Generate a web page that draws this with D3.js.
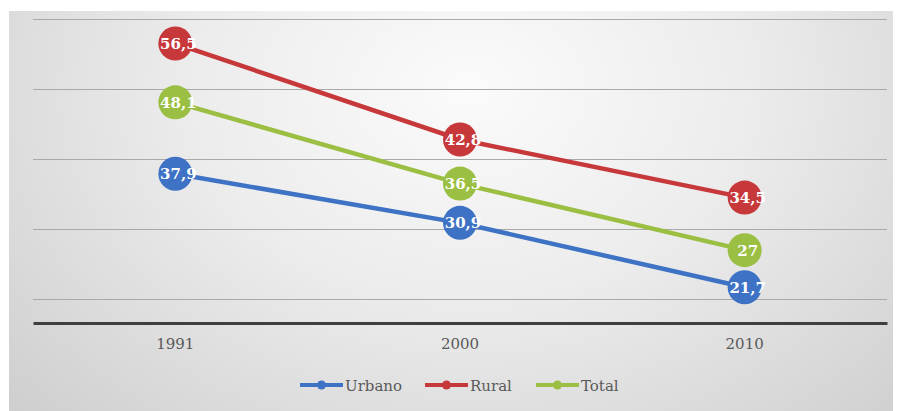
<!DOCTYPE html>
<html>
<head>
<meta charset="utf-8">
<script src="https://cdn.jsdelivr.net/npm/d3@7"></script>
<style>
  html, body { margin: 0; padding: 0; background: #ffffff; }
  svg { display: block; }
</style>
</head>
<body>
<svg id="chart" width="900" height="411"></svg>
<script>
// Census years and series values (%)
const years = ["1991", "2000", "2010"];
const urbano = [37.9, 30.9, 21.7];
const rural = [56.5, 42.8, 34.5];
const total = [48.1, 36.5, 27];
const gridValues = [20, 30, 40, 50, 60];
const seriesNames = ["Urbano", "Rural", "Total"];

const colors = { Urbano: "#3d72c4", Rural: "#c7383b", Total: "#9bbf42" };
const series = [
  { name: "Rural", values: rural },
  { name: "Total", values: total },
  { name: "Urbano", values: urbano }
];

const serif = "'DejaVu Serif', 'Liberation Serif', serif";
const svg = d3.select("#chart");
const W = 900, H = 411;
const plot = { left: 33, right: 887, top: 19, bottom: 323 };

// Panel background with a soft radial shading
const defs = svg.append("defs");
const grad = defs.append("radialGradient")
  .attr("id", "bg")
  .attr("gradientUnits", "userSpaceOnUse")
  .attr("cx", 470).attr("cy", 90).attr("r", 620)
  .attr("gradientTransform", "translate(470,90) scale(1,0.75) translate(-470,-90)");
grad.append("stop").attr("offset", "0%").attr("stop-color", "#fbfbfb");
grad.append("stop").attr("offset", "45%").attr("stop-color", "#ececec");
grad.append("stop").attr("offset", "100%").attr("stop-color", "#cfcfcf");

svg.append("rect")
  .attr("x", 9).attr("y", 11)
  .attr("width", 884).attr("height", H - 11)
  .attr("fill", "url(#bg)");

const x = d3.scaleBand().domain(years).range([plot.left, plot.right]);
const cx = d => x(d) + x.bandwidth() / 2;
const y = d3.scaleLinear().domain([16.6, 60]).range([plot.bottom, plot.top]);

// Horizontal gridlines
svg.append("g")
  .selectAll("line")
  .data(gridValues)
  .join("line")
  .attr("x1", plot.left).attr("x2", plot.right)
  .attr("y1", d => Math.round(y(d)) + 0.5)
  .attr("y2", d => Math.round(y(d)) + 0.5)
  .attr("stroke", "#a9a9a9")
  .attr("stroke-width", 1);

// Category axis
const xAxis = svg.append("g")
  .attr("transform", `translate(0,${plot.bottom})`)
  .call(d3.axisBottom(x).tickSize(0).tickPadding(15));
xAxis.select(".domain").attr("stroke", "#3f3f3f").attr("stroke-width", 3);
xAxis.selectAll("text")
  .attr("fill", "#595959")
  .style("font-family", serif)
  .style("font-size", "15px");

// Series lines
const line = d3.line()
  .x((d, i) => cx(years[i]))
  .y(d => y(d));

svg.append("g")
  .selectAll("path")
  .data(series)
  .join("path")
  .attr("d", s => line(s.values))
  .attr("fill", "none")
  .attr("stroke", s => colors[s.name])
  .attr("stroke-width", 4.5)
  .attr("stroke-linecap", "round");

// Markers and value labels
series.forEach(s => {
  const g = svg.append("g");
  g.selectAll("circle")
    .data(s.values)
    .join("circle")
    .attr("cx", (d, i) => cx(years[i]))
    .attr("cy", d => y(d))
    .attr("r", 17)
    .attr("fill", colors[s.name]);
  g.selectAll("text")
    .data(s.values)
    .join("text")
    .attr("x", (d, i) => cx(years[i]) + 3)
    .attr("y", d => y(d) + 5.5)
    .attr("text-anchor", "middle")
    .attr("fill", "#ffffff")
    .style("font-family", serif)
    .style("font-weight", "bold")
    .style("font-size", "15px")
    .text(d => String(d).replace(".", ","));
});

// Legend
const legendX = [300, 425, 536];
const legend = svg.append("g")
  .selectAll("g")
  .data(seriesNames)
  .join("g")
  .attr("transform", (d, i) => `translate(${legendX[i]},385)`);
legend.append("line")
  .attr("x1", 0).attr("x2", 43)
  .attr("y1", 0).attr("y2", 0)
  .attr("stroke", d => colors[d])
  .attr("stroke-width", 4);
legend.append("circle")
  .attr("cx", 21.5).attr("cy", 0).attr("r", 4.5)
  .attr("fill", d => colors[d]);
legend.append("text")
  .attr("x", 45).attr("y", 5.5)
  .attr("fill", "#595959")
  .style("font-family", serif)
  .style("font-size", "15px")
  .text(d => d);
</script>
</body>
</html>
